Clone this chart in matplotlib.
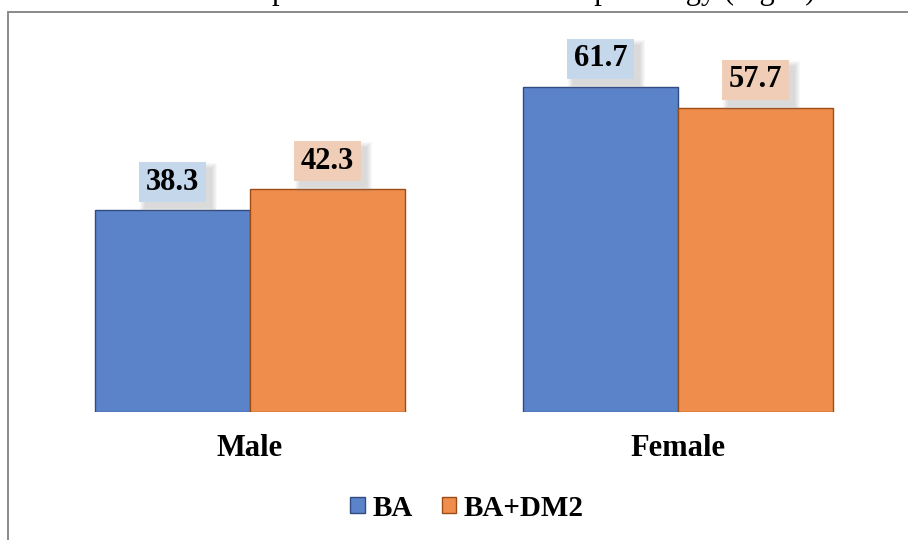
import matplotlib.pyplot as plt
from matplotlib.patches import Rectangle
import numpy as np

# ---- data ----
categories = ["Male", "Female"]
series_names = ["BA", "BA+DM2"]
ba_values = [38.3, 61.7]
ba_dm2_values = [42.3, 57.7]
title_text = "Distribution of patients with concomitant pathology (Fig. 1)"

# ---- style ----
FONT = "Liberation Serif"
BAR_COLORS = ["#5B83CA", "#EF8E4C"]
EDGE_COLORS = ["#2F4B80", "#9E4C16"]
BOX_COLORS = ["#C4D7EB", "#F0CDB7"]
W, H = 908, 540

fig = plt.figure(figsize=(W / 100, H / 100), dpi=100)

# outer frame (only top and left edges are in view)
frame = Rectangle((8 / W, -0.2), 1.5, 1.2 - 12 / H, transform=fig.transFigure,
                  facecolor="none", edgecolor="#8a8a8a", lw=1.4)
fig.add_artist(frame)

# title, cut off at the top of the picture like in the source
fig.text(450 / W, 1.0 + 1.5 / H, title_text, ha="center", va="baseline",
         fontsize=22, family=FONT)

ax = fig.add_axes([0, (H - 412) / H, 1, 400 / H])
px_per_unit = 5.27
group_gap = 428
bar_w = 155 / group_gap
ax.set_xlim(-250 / group_gap, (W - 250) / group_gap)
ax.set_ylim(0, 400 / px_per_unit)
ax.axis("off")

x = np.arange(len(categories))
all_series = [ba_values, ba_dm2_values]
offsets = [-bar_w / 2, bar_w / 2]

box_w = 67 / group_gap
box_h = 40 / px_per_unit
box_gap = 8 / px_per_unit
px_x = 1 / group_gap
px_y = 1 / px_per_unit

handles = []
for i, vals in enumerate(all_series):
    bars = ax.bar(x + offsets[i], vals, width=bar_w, color=BAR_COLORS[i],
                  edgecolor=EDGE_COLORS[i], lw=1.0, label=series_names[i])
    handles.append(bars)
    for xi, v in zip(x + offsets[i], vals):
        x0, y0 = xi - box_w / 2, v + box_gap
        # soft drop shadow, down and to the right
        for k in range(0, 6):
            ax.add_patch(Rectangle((x0 + (6 - k) * px_x, y0 - (6 + k) * px_y),
                                   box_w + 2 * k * px_x, box_h + 2 * k * px_y,
                                   facecolor="#808080", edgecolor="none",
                                   alpha=0.05, zorder=2))
        ax.add_patch(Rectangle((x0, y0), box_w, box_h,
                               facecolor=BOX_COLORS[i], edgecolor="none", zorder=3))
        ax.text(xi, y0 + box_h / 2, f"{v:.1f}", ha="center", va="center",
                fontsize=22, fontweight="bold", family=FONT, zorder=4)

# category labels
for xi, name in zip(x, categories):
    fig.text((250 + xi * group_gap) / W, 1 - 448 / H, name, ha="center", va="center",
             fontsize=22, fontweight="bold", family=FONT)

leg = fig.legend(handles=handles, labels=series_names, loc="center",
                 bbox_to_anchor=(467 / W, 1 - 508 / H), ncol=2, frameon=False,
                 handlelength=0.5, handleheight=0.5, handletextpad=0.25,
                 columnspacing=1.0, prop={"family": FONT, "size": 21, "weight": "bold"})

fig.savefig("out.png", dpi=100)
